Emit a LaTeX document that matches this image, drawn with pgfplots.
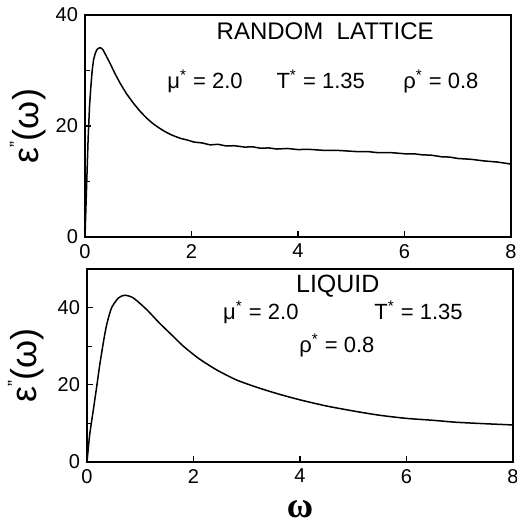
\documentclass[border=0pt]{standalone}
\usepackage{fontspec}
\setmainfont{Liberation Sans}
\newfontfamily\timesf{Liberation Serif}
\usepackage{pgfplots}
\pgfplotsset{compat=1.18}
\tikzset{annot/.style={font=\fontsize{11}{11}\selectfont, inner sep=0pt}}
\pgfplotsset{myax/.style={
  scale only axis, width=213pt,
  xmin=0, xmax=8, xtick={0,2,4,6,8},
  ymin=0, ytick={0,20,40}, minor ytick={10,30},
  tick align=inside, xtick pos=bottom, ytick pos=left,
  axis line style={line width=1pt},
  every tick/.style={black, line width=0.6pt},
  major tick length=3pt, minor tick length=2.5pt,
  ticklabel style={font=\fontsize{10}{10}\selectfont},
  /pgf/number format/assume math mode=true,
}}
\newcommand{\ylab}{{\fontsize{18}{18}\selectfont ε\raisebox{0.45em}{\fontsize{9}{9}\selectfont "}(ω)}}
\begin{document}
\begin{tikzpicture}
\useasboundingbox (-42.5pt,-144pt) rectangle (215.5pt,118.5pt);
\begin{axis}[myax, name=top, height=111pt, ymax=40,
  ylabel={\ylab},
  every axis y label/.style={at={(axis description cs:-0.134,0.5)}, rotate=90, anchor=center}]
\addplot[black, line width=0.75pt, no marks] coordinates {
(0,0) (0.03,9.1) (0.06,18.1) (0.085,23.5) (0.11,27.1) (0.135,30.0) (0.16,31.9) (0.19,33.0) (0.22,33.7) (0.25,34.0) (0.28,34.1)
(0.31,34.0) (0.34,33.7) (0.40,32.6) (0.47,31.3) (0.56,29.5) (0.66,27.7) (0.78,25.8) (0.91,24.1)
(1.03,22.7) (1.16,21.4) (1.28,20.4) (1.40,19.6) (1.5,19.0) (1.6,18.5) (1.7,18.1) (1.8,17.75) (1.91,17.5)
(2.05,17.1) (2.2,16.95) (2.35,16.6) (2.5,16.7) (2.65,16.4) (2.8,16.45)
(3.0,16.2) (3.15,16.25) (3.29,16.0) (3.45,16.05) (3.6,15.85) (3.8,15.95)
(4.0,15.75) (4.2,15.8) (4.5,15.6) (4.75,15.6) (5.09,15.4) (5.3,15.4)
(5.5,15.2) (5.75,15.2) (6.0,15.0) (6.17,15.0) (6.34,14.8) (6.5,14.75)
(6.7,14.45) (6.85,14.4) (7.0,14.15) (7.25,14.0) (7.5,13.7) (7.75,13.5)
(7.96,13.2) (8.0,13.1)
};
\node[annot, anchor=base, font=\fontsize{12}{12}\selectfont] at (axis cs:4.51,35.6) {RANDOM\ \ LATTICE};
\node[annot, anchor=base west] at (axis cs:1.54,26.8) {μ\textsuperscript{*} = 2.0};
\node[annot, anchor=base west] at (axis cs:3.59,26.8) {T\textsuperscript{*} = 1.35};
\node[annot, anchor=base west] at (axis cs:5.97,26.8) {ρ\textsuperscript{*} = 0.8};
\end{axis}
\begin{axis}[myax, at={(1pt,-16pt)}, anchor=north west, height=96.5pt, ymax=50,
  ylabel={\ylab},
  every axis y label/.style={at={(axis description cs:-0.143,0.5)}, rotate=90, anchor=center},
  xlabel={\timesf\bfseries\fontsize{18}{18}\selectfont ω},
  every axis x label/.style={at={(axis description cs:0.5,-0.245)}, anchor=center, inner sep=0pt}]
\addplot[black, line width=0.75pt, no marks, smooth, tension=0.4] coordinates {
(0,0) (0.05,7.0) (0.12,13.6) (0.18,19.3) (0.24,25.2) (0.31,31.2) (0.37,35.6) (0.46,39.9)
(0.59,42.5) (0.71,43.2) (0.87,42.5) (1.12,39.5) (1.36,36.0)
(1.6,32.8) (1.81,30.0) (2.1,26.8) (2.43,23.9) (2.8,21.3) (3.2,19.3)
(3.6,17.6) (4.0,16.1) (4.5,14.5) (5.05,13.1) (5.5,12.1) (6.0,11.3)
(6.5,10.8) (6.93,10.3) (7.5,9.9) (8.0,9.6)
};
\node[annot, anchor=base west, font=\fontsize{12.5}{12.5}\selectfont] at (axis cs:3.92,43.9) {LIQUID};
\node[annot, anchor=base west] at (axis cs:2.55,36.9) {μ\textsuperscript{*} = 2.0};
\node[annot, anchor=base west] at (axis cs:5.39,36.9) {T\textsuperscript{*} = 1.35};
\node[annot, anchor=base west] at (axis cs:3.98,28.3) {ρ\textsuperscript{*} = 0.8};
\end{axis}
\end{tikzpicture}
\end{document}
